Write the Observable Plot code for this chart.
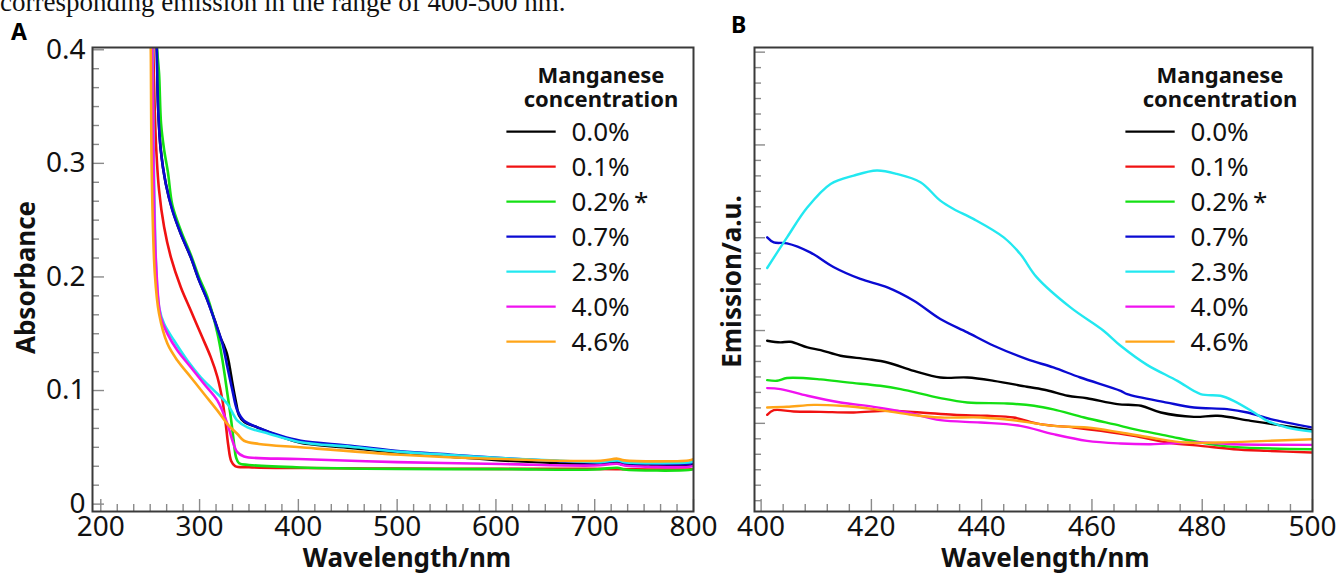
<!DOCTYPE html>
<html><head><meta charset="utf-8">
<script src="https://cdn.jsdelivr.net/npm/d3@7"></script>
<script src="https://cdn.jsdelivr.net/npm/@observablehq/plot@0.6"></script>
<style>
body{margin:0;background:#fff;width:1338px;height:574px;overflow:hidden;position:relative;font-family:"Noto Sans",sans-serif}
#caption{position:absolute;left:0;top:-11px;font-family:"Liberation Serif",serif;font-size:27px;line-height:26px;white-space:nowrap;color:#111}
.plabel{position:absolute;font-family:"Noto Sans",sans-serif;font-weight:bold;font-size:23px;line-height:23px;color:#000}
#pa{position:absolute;left:0;top:0}
#pb{position:absolute;left:720px;top:0}
</style></head><body>
<div id="caption">corresponding emission in the range of 400-500 nm.</div>
<div class="plabel" style="left:11px;top:20px">A</div>
<div class="plabel" style="left:731px;top:13px">B</div>
<div id="pa"></div>
<div id="pb"></div>
<script>
// ---- categories / legend ----
const concentrations = ["0.0%","0.1%","0.2%","0.7%","2.3%","4.0%","4.6%"];
const legendLabels = ["0.0%","0.1%","0.2%\u2009*","0.7%","2.3%","4.0%","4.6%"];
const seriesColors = ["#000000","#f01212","#14e014","#0a0ad2","#22e8f0","#f012f0","#ffa518"];
const legendTitle = ["Manganese","concentration"];

// ---- Panel A: absorbance [wavelength nm, absorbance] ----
const abs00 = [[256.0,0.41],[256.7,0.40],[258.0,0.35],[260.7,0.312],[265.8,0.282],[272.5,0.259],[281,0.238],[291,0.2175],[299.5,0.197],[308,0.1795],[316.4,0.159],[321,0.147],[324.5,0.14],[327.5,0.133],[330,0.123],[333.5,0.105],[337,0.089],[340,0.078],[345,0.0725],[358.6,0.0675],[382,0.0595],[402,0.054],[453,0.0495],[503.6,0.0452],[554,0.0418],[605,0.0385],[655,0.0365],[706,0.0355],[723,0.0365],[728,0.035],[757,0.0348],[795,0.0337],[800,0.0345]];
const abs01 = [[253,0.41],[253.3,0.394],[255.7,0.3204],[259,0.2762],[264.1,0.2439],[270.9,0.2175],[281,0.191],[291.1,0.1705],[301.2,0.1499],[311.3,0.1294],[318.1,0.1117],[323.2,0.0911],[326.5,0.0705],[329,0.052],[332,0.038],[336,0.0335],[350,0.0325],[402,0.0318],[500,0.0313],[605,0.031],[700,0.031],[795,0.0305],[800,0.031]];
const abs02 = [[256.5,0.41],[257,0.40],[259,0.379],[261,0.335],[264.1,0.312],[268,0.292],[272.5,0.263],[281,0.241],[291.1,0.2195],[299.5,0.1995],[308,0.1822],[318.1,0.1502],[323.2,0.1264],[328.2,0.097],[331.6,0.0764],[334.5,0.056],[337,0.041],[340,0.036],[350,0.0345],[402,0.0323],[500,0.031],[605,0.0308],[700,0.0305],[723,0.032],[730,0.0305],[795,0.030],[800,0.0308]];
const abs07 = [[256.2,0.41],[256.7,0.40],[258,0.35],[260.7,0.3116],[265.8,0.282],[272.5,0.2586],[281,0.238],[291.1,0.2175],[299.5,0.197],[308,0.1793],[316.4,0.1587],[323.2,0.1411],[328.2,0.1205],[333.3,0.0999],[338.3,0.0823],[345,0.0734],[358.6,0.0676],[382.2,0.0602],[402.4,0.0558],[453,0.0514],[503.6,0.0464],[554.3,0.0435],[604.9,0.0405],[655.5,0.0382],[706.1,0.0367],[723,0.0382],[730,0.0365],[756.7,0.0358],[795,0.0356],[800,0.0365]];
const abs23 = [[252,0.41],[252.3,0.40],[253.9,0.29],[256,0.21],[259,0.1734],[264.1,0.1587],[274.2,0.144],[287.7,0.1264],[301.2,0.1117],[314.7,0.0999],[328.2,0.0882],[338.3,0.0735],[348.5,0.0676],[370,0.062],[402,0.0545],[453,0.0505],[503.6,0.046],[554,0.0432],[605,0.0405],[655,0.0385],[706,0.037],[723,0.0385],[730,0.037],[795,0.0366],[800,0.0375]];
const abs40 = [[251.5,0.41],[252,0.40],[253.5,0.29],[256,0.21],[260.7,0.1646],[267.5,0.1499],[277.6,0.1352],[291.1,0.1205],[304.6,0.1058],[318.1,0.0911],[328.2,0.0705],[333.3,0.0558],[338,0.046],[345,0.042],[400,0.0397],[500,0.037],[605,0.0353],[700,0.034],[723,0.0355],[730,0.034],[795,0.0329],[800,0.0337]];
const abs46 = [[250.3,0.41],[250.6,0.40],[251.6,0.2909],[254.7,0.2027],[259,0.1676],[267.5,0.1411],[277.6,0.1264],[291.1,0.1117],[304.6,0.097],[318.1,0.0823],[328.2,0.0705],[338.3,0.0617],[345,0.0558],[360,0.053],[402,0.050],[503.6,0.0435],[605,0.0397],[706,0.0382],[723,0.040],[730,0.0385],[795,0.0384],[800,0.0395]];
const absSeries = [abs00, abs01, abs02, abs07, abs23, abs40, abs46];
const absXTicks = [200,300,400,500,600,700,800];
const absYTicks = [0,0.1,0.2,0.3,0.4];
const absYTickLabels = ["0","0.1","0.2","0.3","0.4"];

// ---- Panel B: emission [wavelength nm, a.u.] ----
const em00 = [[401.1,1.89],[403.5,1.872],[405.3,1.879],[408.4,1.818],[410.8,1.789],[414.4,1.728],[419.2,1.692],[422.9,1.656],[427.7,1.566],[432.5,1.494],[437.4,1.494],[442.2,1.458],[448.2,1.394],[451.8,1.357],[455.6,1.297],[459.1,1.271],[464.6,1.207],[468.9,1.189],[472.5,1.117],[478.5,1.07],[482.8,1.081],[488.8,1.027],[494.9,0.973],[500,0.926]];
const em01 = [[401.1,1.092],[402.3,1.142],[405.9,1.128],[410.8,1.124],[416.8,1.117],[422.9,1.135],[428.9,1.117],[434.9,1.092],[441,1.081],[445.8,1.063],[450.6,0.991],[456.7,0.955],[461.6,0.919],[467.6,0.865],[473.7,0.793],[479.7,0.757],[485.7,0.721],[491.8,0.703],[500,0.685]];
const em02 = [[401.1,1.466],[402.9,1.459],[404.7,1.488],[410.8,1.474],[415.6,1.441],[421.6,1.405],[425.3,1.369],[432.5,1.272],[437.4,1.225],[444.6,1.214],[449.5,1.189],[453,1.15],[458.6,1.063],[465.2,0.973],[467.6,0.937],[473.7,0.865],[479.7,0.793],[485.7,0.746],[500,0.721]];
const em07 = [[401.1,3.004],[402.3,2.95],[404.7,2.94],[408.9,2.843],[413.2,2.682],[418,2.556],[422.9,2.465],[427.7,2.321],[432.5,2.124],[437.4,1.98],[442.2,1.836],[448.2,1.692],[453,1.602],[457.9,1.494],[465.2,1.35],[466.4,1.315],[473.6,1.224],[478.5,1.171],[484.5,1.153],[488.2,1.117],[492.4,1.045],[500,0.955]];
const em23 = [[401.1,2.674],[404.7,3.004],[408.4,3.328],[412.6,3.58],[416.8,3.67],[421,3.724],[424.6,3.688],[428.9,3.598],[432.5,3.40],[434.9,3.31],[438.5,3.203],[444,3.004],[447,2.825],[450,2.573],[456.1,2.249],[462.1,1.998],[465.2,1.836],[470,1.63],[475.5,1.458],[479.7,1.315],[483.3,1.297],[485.7,1.243],[489.4,1.117],[491.8,1.027],[495.4,0.955],[500,0.912]];
const em40 = [[401.1,1.38],[403.5,1.369],[408.4,1.297],[414.4,1.225],[420.4,1.178],[426.5,1.117],[432.5,1.034],[439.8,1.009],[447,0.973],[453,0.883],[459.1,0.811],[465.2,0.783],[470.6,0.775],[479.7,0.793],[485.7,0.775],[500,0.768]];
const em46 = [[401.1,1.171],[404.7,1.178],[409.6,1.199],[414.4,1.189],[420.4,1.153],[426.5,1.099],[432.5,1.063],[439.8,1.063],[445.8,1.034],[453,0.973],[459.1,0.955],[465.2,0.901],[470.6,0.847],[476.7,0.793],[482.8,0.793],[491.8,0.811],[500,0.829]];
const emSeries = [em00, em01, em02, em07, em23, em40, em46];
const emXTicks = [400,420,440,460,480,500];
const emYTicks = [1,2,3,4,5];

// ---- helpers ----
function rowsOf(series) {
  const rows = [];
  series.forEach((s, i) => s.forEach(([x, y]) => rows.push({c: concentrations[i], x, y})));
  return rows;
}
function subdivide(majors, n, lo, hi) {
  const out = [];
  const step = majors[1] - majors[0];
  const start = majors[0] - step * Math.ceil((majors[0] - lo) / step);
  for (let m = start; m < hi + 1e-9; m += step) {
    for (let k = 1; k < n; k++) {
      const v = m + step * k / n;
      if (v >= lo - 1e-9 && v <= hi + 1e-9) out.push(v);
    }
  }
  return out;
}
function addLegend(svg, frameRight) {
  const g = d3.select(svg).append("g").attr("font-family", "'Noto Sans', sans-serif");
  g.selectAll("text.t").data(legendTitle).join("text")
    .attr("x", frameRight - 92).attr("y", (d, i) => 83 + i * 24)
    .attr("text-anchor", "middle").attr("font-size", 22).attr("font-weight", "bold").attr("fill", "#111")
    .text(d => d);
  const rows = g.selectAll("g.r").data(legendLabels).join("g").attr("transform", (d, i) => `translate(0,${131.7 + 35 * i})`);
  rows.append("line").attr("x1", frameRight - 186.6).attr("x2", frameRight - 137.3)
    .attr("stroke", (d, i) => seriesColors[i]).attr("stroke-width", 2.2);
  rows.append("text").attr("x", frameRight - 121.6).attr("dy", "0.36em").attr("text-anchor", "start")
    .attr("font-size", 26).attr("fill", "#111").text(d => d);
}
const tickColor = "#8a8a8a";

// ---- Panel A ----
{
  const W = 720, H = 574, ml = 92, mr = 27, mt = 47, mb = 63;
  const fw = W - ml - mr, fh = H - mt - mb;
  const xDom = [191.6, 800], yDom = [-0.0065, 0.402];
  const xMinor = subdivide(absXTicks, 6, xDom[0], xDom[1]);
  const yMinor = subdivide([0, 0.1], 6, 0, 0.4);
  const svg = Plot.plot({
    width: W, height: H, marginLeft: ml, marginRight: mr, marginTop: mt, marginBottom: mb,
    x: {domain: xDom}, y: {domain: yDom},
    color: {domain: concentrations, range: seriesColors},
    style: {fontFamily: "'Noto Sans', sans-serif", fontSize: "28px", overflow: "visible", background: "transparent", color: "#111"},
    marks: [
      Plot.ruleX(xMinor, {x: d => d, insetTop: fh - 7, stroke: tickColor, strokeWidth: 1.4}),
      Plot.ruleX(absXTicks, {x: d => d, insetTop: fh - 12, stroke: tickColor, strokeWidth: 1.4}),
      Plot.ruleY(yMinor, {y: d => d, insetRight: fw - 7, stroke: tickColor, strokeWidth: 1.4}),
      Plot.ruleY(absYTicks, {y: d => d, insetRight: fw - 12, stroke: tickColor, strokeWidth: 1.4}),
      Plot.line(rowsOf(absSeries), {x: "x", y: "y", z: "c", stroke: "c", strokeWidth: 2.6, curve: "catmull-rom", clip: true}),
      Plot.axisX(absXTicks, {tickSize: 0, tickPadding: 5, fontSize: 28, label: null}),
      Plot.axisY(absYTicks, {tickSize: 0, tickPadding: 7, fontSize: 28, label: null, tickFormat: d => absYTickLabels[absYTicks.indexOf(d)]}),
      Plot.frame({stroke: "#3a3a3a", strokeWidth: 2}),
      Plot.text(["Wavelength/nm"], {text: d => d, frameAnchor: "bottom", lineAnchor: "middle", textAnchor: "middle", dx: 14, dy: 47, fontSize: 26, fontWeight: "bold"}),
      Plot.text(["Absorbance"], {text: d => d, frameAnchor: "left", lineAnchor: "middle", textAnchor: "middle", rotate: -90, dx: -66, dy: -2, fontSize: 26, fontWeight: "bold"})
    ]
  });
  addLegend(svg, W - mr);
  document.getElementById("pa").append(svg);
}

// ---- Panel B ----
{
  const W = 618, H = 574, ml = 34, mr = 26, mt = 47, mb = 63;
  const fw = W - ml - mr, fh = H - mt - mb;
  const xDom = [398.8, 500], yDom = [0.05, 5.05];
  const xMinor = subdivide(emXTicks, 5, xDom[0], xDom[1]);
  const yMinor = subdivide(emYTicks, 6, yDom[0], yDom[1]);
  const svg = Plot.plot({
    width: W, height: H, marginLeft: ml, marginRight: mr, marginTop: mt, marginBottom: mb,
    x: {domain: xDom}, y: {domain: yDom, axis: null},
    color: {domain: concentrations, range: seriesColors},
    style: {fontFamily: "'Noto Sans', sans-serif", fontSize: "28px", overflow: "visible", background: "transparent", color: "#111"},
    marks: [
      Plot.ruleX(xMinor, {x: d => d, insetTop: fh - 7, stroke: tickColor, strokeWidth: 1.4}),
      Plot.ruleX(emXTicks, {x: d => d, insetTop: fh - 12, stroke: tickColor, strokeWidth: 1.4}),
      Plot.ruleY(yMinor, {y: d => d, insetRight: fw - 7, stroke: tickColor, strokeWidth: 1.4}),
      Plot.ruleY(emYTicks, {y: d => d, insetRight: fw - 11, stroke: tickColor, strokeWidth: 1.4}),
      Plot.line(rowsOf(emSeries), {x: "x", y: "y", z: "c", stroke: "c", strokeWidth: 2.4, curve: "catmull-rom", clip: true}),
      Plot.axisX(emXTicks, {tickSize: 0, tickPadding: 5, fontSize: 28, label: null}),
      Plot.frame({stroke: "#3a3a3a", strokeWidth: 2}),
      Plot.text(["Wavelength/nm"], {text: d => d, frameAnchor: "bottom", lineAnchor: "middle", textAnchor: "middle", dx: 12, dy: 47, fontSize: 26, fontWeight: "bold"}),
      Plot.text(["Emission/a.u."], {text: d => d, frameAnchor: "left", lineAnchor: "middle", textAnchor: "middle", rotate: -90, dx: -22, dy: 2, fontSize: 26, fontWeight: "bold"})
    ]
  });
  addLegend(svg, W - mr);
  document.getElementById("pb").append(svg);
}
</script>
</body></html>
